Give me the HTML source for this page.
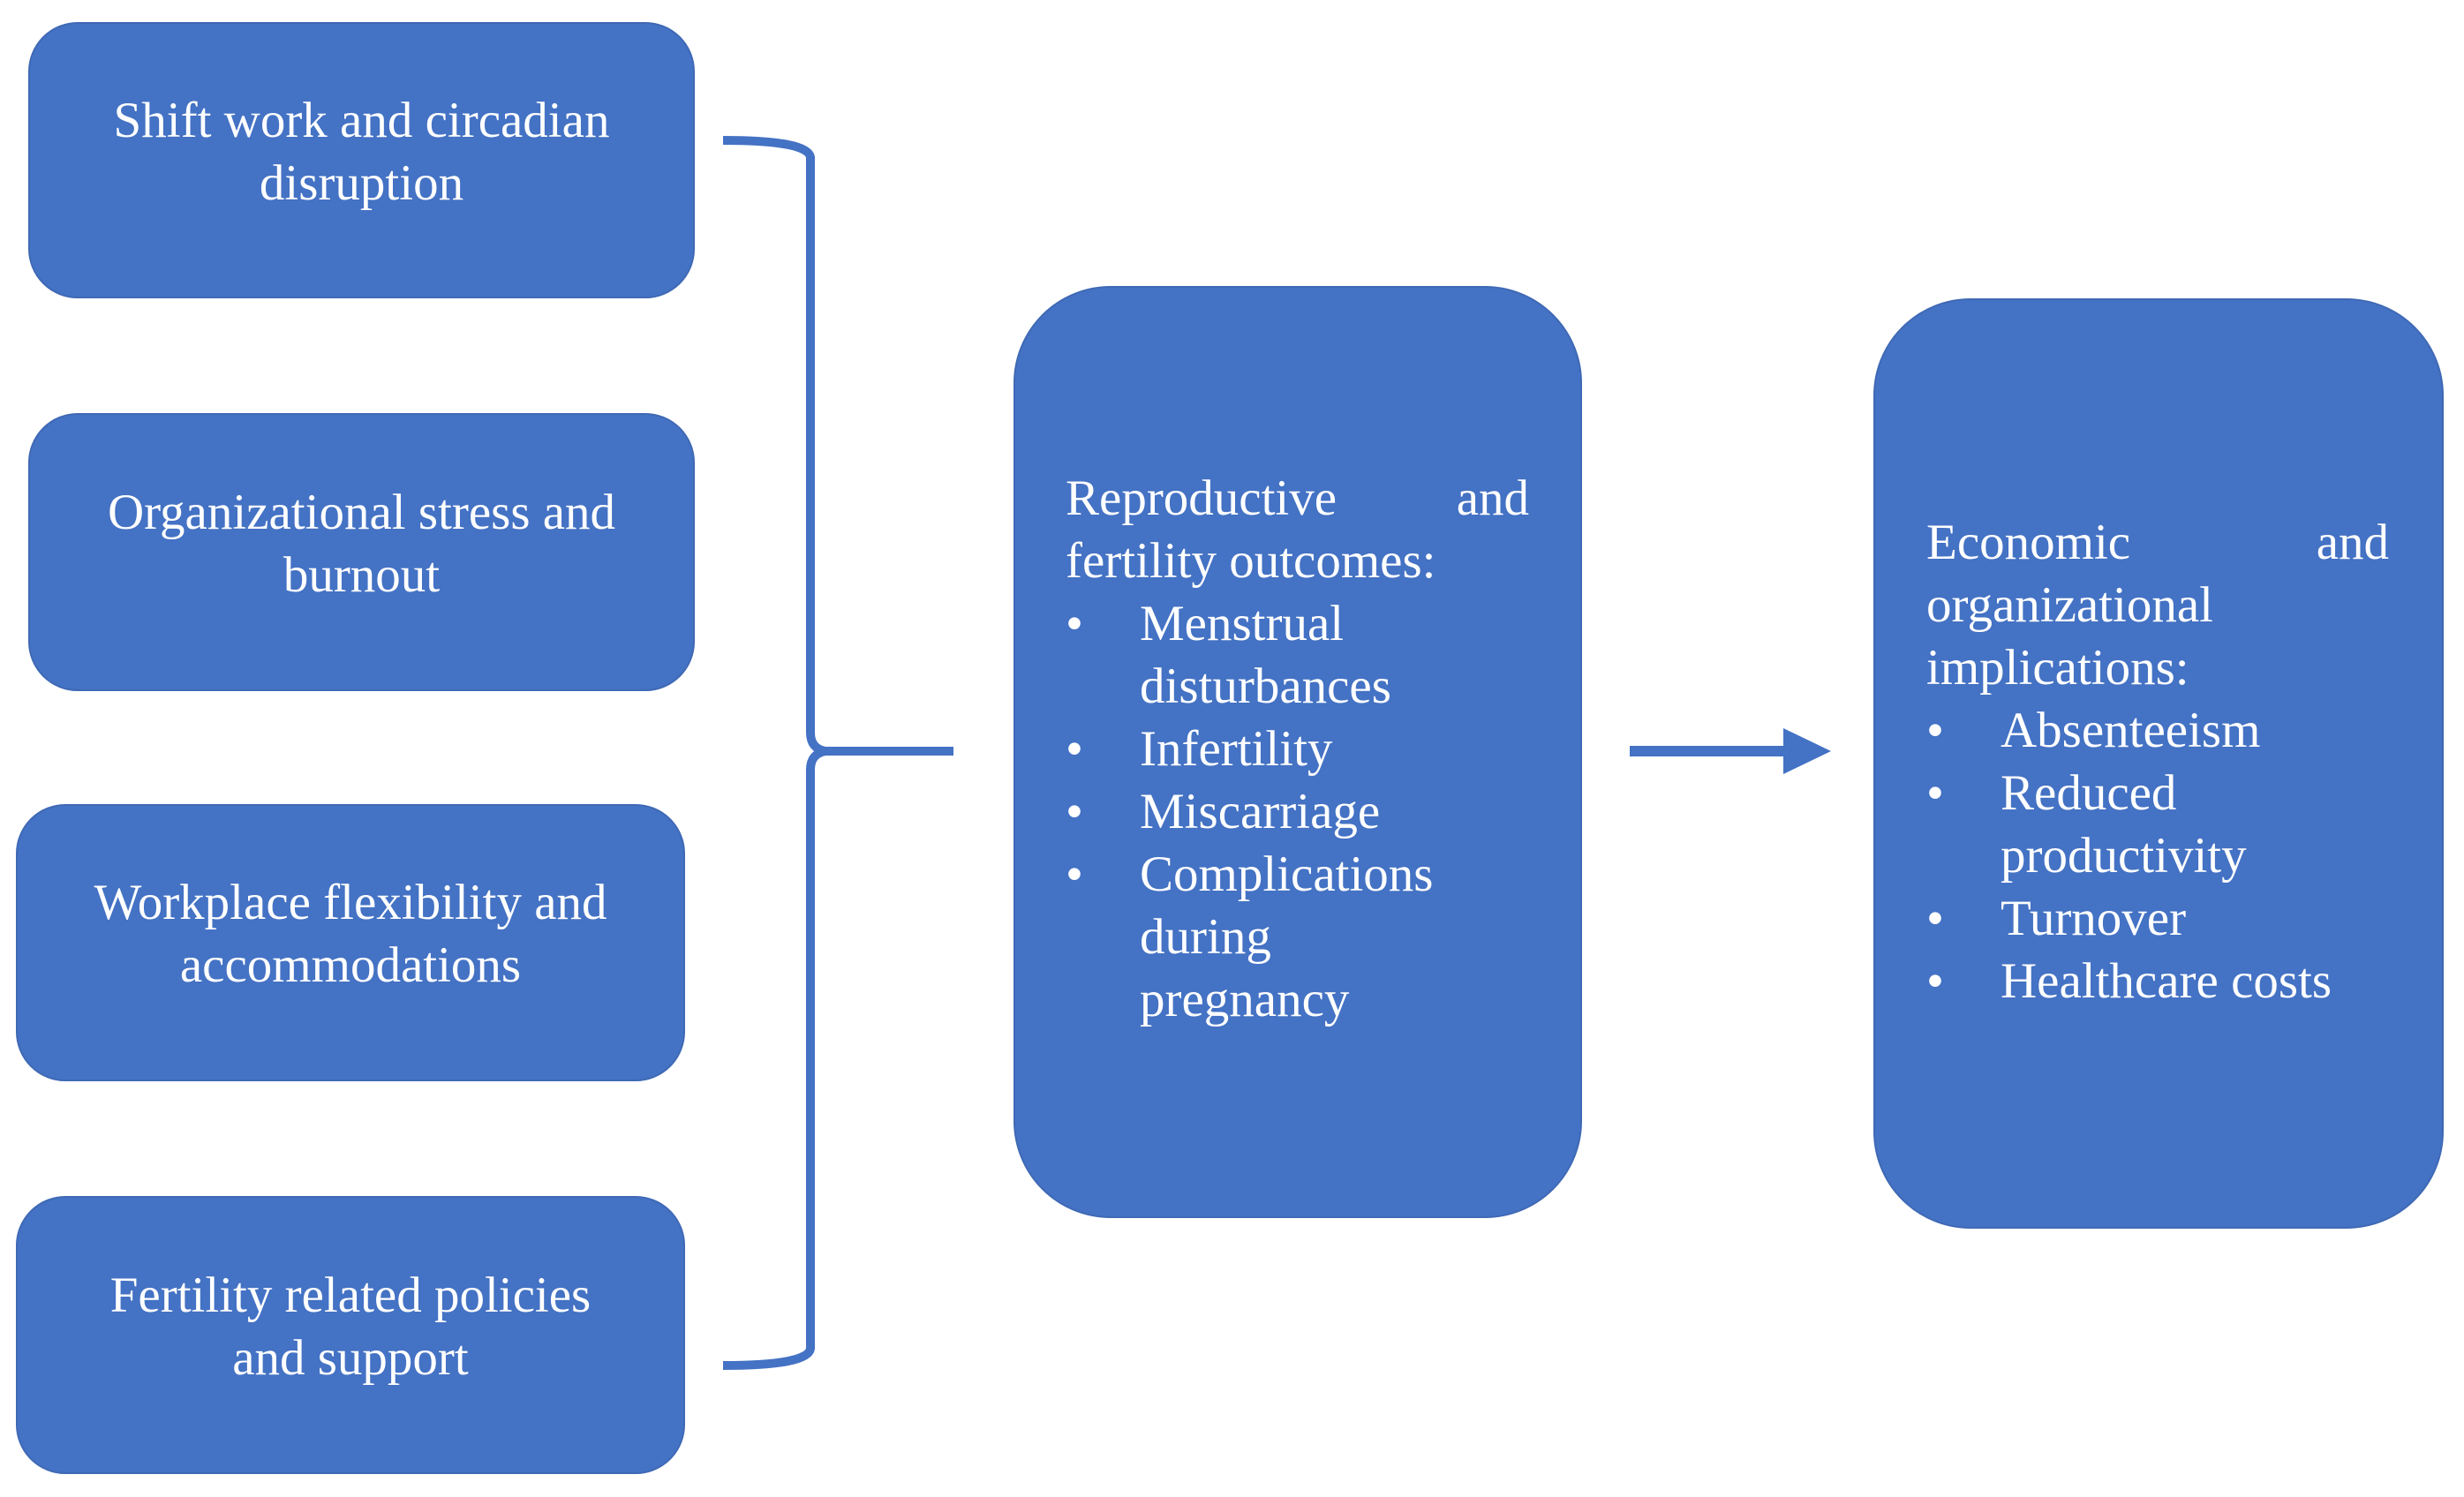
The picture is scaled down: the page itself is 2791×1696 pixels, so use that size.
<!DOCTYPE html>
<html><head><meta charset="utf-8"><style>
body{margin:0;width:2791px;height:1696px;background:#fff;position:relative;overflow:hidden;font-family:"Liberation Serif",serif;color:#fff}
.b{position:absolute;background:#4472C4;border:2px solid #3f69b5;box-sizing:border-box}
.l{border-radius:56px;display:flex;align-items:center;justify-content:center;text-align:center;font-size:57px;line-height:71px;padding-bottom:20px}
.t{position:absolute;font-size:57px;line-height:71px}
.j{display:flex;justify-content:space-between}
.li{position:relative;padding-left:84px}
.li:before{content:"•";position:absolute;left:0}
</style></head><body>
<div class="b l" style="left:32px;top:25px;width:755px;height:313px">Shift work and circadian<br>disruption</div>
<div class="b l" style="left:32px;top:468px;width:755px;height:315px">Organizational stress and<br>burnout</div>
<div class="b l" style="left:18px;top:911px;width:758px;height:314px">Workplace flexibility and<br>accommodations</div>
<div class="b l" style="left:18px;top:1355px;width:758px;height:315px">Fertility related policies<br>and support</div>
<div class="b" style="left:1148px;top:324px;width:644px;height:1056px;border-radius:110px"></div>
<div class="b" style="left:2122px;top:338px;width:646px;height:1054px;border-radius:110px"></div>
<svg style="position:absolute;left:0;top:0" width="2791" height="1696">
<path d="M819 159 Q915 159 918 178 L918 830 Q918 848 935 851 L1080 851 M935 851 Q918 854 918 872 L918 1528 Q915 1547 819 1547" fill="none" stroke="#4472C4" stroke-width="10"/>
<line x1="1846" y1="851" x2="2030" y2="851" stroke="#4472C4" stroke-width="12"/>
<polygon points="2020,825 2074,851 2020,877" fill="#4472C4"/>
</svg>
<div class="t" style="left:1207px;top:529px;width:525px">
<div class="j"><span>Reproductive</span><span>and</span></div>
<div>fertility outcomes:</div>
<div class="li">Menstrual<br>disturbances</div>
<div class="li">Infertility</div>
<div class="li">Miscarriage</div>
<div class="li">Complications<br>during<br>pregnancy</div>
</div>
<div class="t" style="left:2182px;top:579px;width:524px">
<div class="j"><span>Economic</span><span>and</span></div>
<div>organizational</div>
<div>implications:</div>
<div class="li">Absenteeism</div>
<div class="li">Reduced<br>productivity</div>
<div class="li">Turnover</div>
<div class="li">Healthcare costs</div>
</div>
</body></html>
